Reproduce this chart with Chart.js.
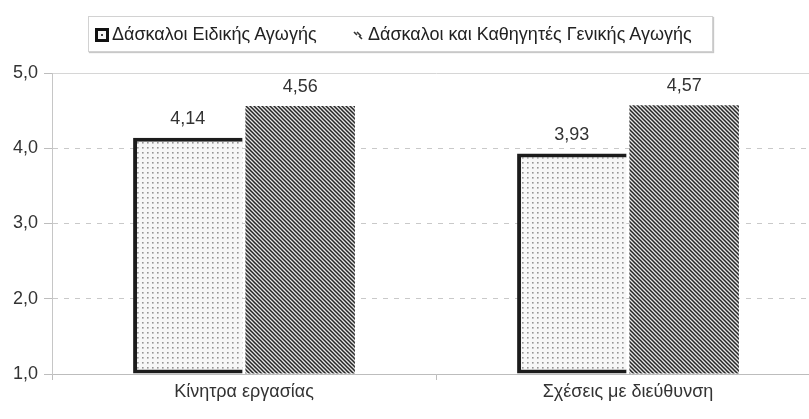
<!DOCTYPE html>
<html>
<head>
<meta charset="utf-8">
<script src="https://cdn.jsdelivr.net/npm/chart.js@4/dist/chart.umd.min.js"></script>
<style>
  html, body { margin: 0; padding: 0; background: #fff; overflow: hidden; }
  #wrap { position: relative; width: 809px; height: 419px; overflow: hidden; }
  #chart { position: absolute; left: 0; top: 0; }
  #legend {
    position: absolute; left: 88px; top: 16px; width: 625px; height: 36px;
    box-sizing: border-box; border: 1px solid #d2d2d2; box-shadow: 1px 1px 1px #c8c8c8;
    font: 18px "Liberation Sans", Arial, sans-serif; color: #222;
  }
  #legend .item { position: absolute; top: 7px; display: flex; align-items: center; white-space: nowrap; }
  #legend canvas { margin-right: 3px; }
</style>
</head>
<body>
<div id="wrap">
  <canvas id="chart" width="830" height="419"></canvas>
  <div id="legend"></div>
</div>
<script>
const categories = ['Κίνητρα εργασίας', 'Σχέσεις με διεύθυνση'];
const seriesNames = ['Δάσκαλοι Ειδικής Αγωγής', 'Δάσκαλοι και Καθηγητές Γενικής Αγωγής'];
const specialEd = [4.14, 3.93];
const generalEd = [4.56, 4.57];
const yMin = 1;
const yMax = 5;

const FONT = '"Liberation Sans", Arial, sans-serif';
const comma = (v, d) => v.toFixed(d).replace('.', ',');

// fill patterns: fine dots for the first series, diagonal hatching for the second
function dotPattern(ctx) {
  const c = document.createElement('canvas');
  c.width = 5; c.height = 5;
  const g = c.getContext('2d');
  g.fillStyle = '#f7f7f7';
  g.fillRect(0, 0, 5, 5);
  g.fillStyle = '#959595';
  g.fillRect(2, 2, 1.6, 1.6);
  return ctx.createPattern(c, 'repeat');
}

function hatchPattern(ctx) {
  const s = 4;
  const c = document.createElement('canvas');
  c.width = s; c.height = s;
  const g = c.getContext('2d');
  g.fillStyle = '#e4e4e4';
  g.fillRect(0, 0, s, s);
  g.strokeStyle = '#262626';
  g.lineWidth = 1.5;
  g.beginPath();
  g.moveTo(-1, -1); g.lineTo(s + 1, s + 1);
  g.moveTo(-1, s - 1); g.lineTo(1, s + 1);
  g.moveTo(s - 1, -1); g.lineTo(s + 1, 1);
  g.stroke();
  return ctx.createPattern(c, 'repeat');
}

const canvas = document.getElementById('chart');
const ctx2d = canvas.getContext('2d');

const valueLabels = {
  id: 'valueLabels',
  afterDatasetsDraw(chart) {
    const ctx = chart.ctx;
    ctx.save();
    ctx.font = '18px ' + FONT;
    ctx.fillStyle = '#333';
    ctx.textAlign = 'center';
    ctx.textBaseline = 'alphabetic';
    chart.data.datasets.forEach((ds, i) => {
      chart.getDatasetMeta(i).data.forEach((bar, j) => {
        ctx.fillText(comma(ds.data[j], 2), bar.x, bar.y - 14);
      });
    });
    ctx.restore();
  }
};

new Chart(canvas, {
  type: 'bar',
  data: {
    labels: categories,
    datasets: [{
      label: seriesNames[0],
      data: specialEd,
      base: yMin,
      backgroundColor: dotPattern(ctx2d),
      borderColor: '#1c1c1c',
      borderWidth: { top: 4, left: 4, bottom: 4, right: 0 },
      borderSkipped: false
    }, {
      label: seriesNames[1],
      data: generalEd,
      base: yMin,
      backgroundColor: hatchPattern(ctx2d),
      borderWidth: 0
    }]
  },
  options: {
    responsive: false,
    animation: false,
    categoryPercentage: 0.585,
    barPercentage: 0.975,
    layout: { padding: { left: 0, right: 10, top: 73, bottom: 0 } },
    plugins: {
      legend: { display: false },
      tooltip: { enabled: false }
    },
    scales: {
      x: {
        grid: {
          offset: true,
          drawOnChartArea: false,
          drawTicks: true,
          tickLength: 6,
          color: '#bdbdbd'
        },
        border: { color: '#bdbdbd' },
        ticks: {
          padding: 1,
          color: '#333',
          font: { family: FONT, size: 18 }
        },
        afterFit: s => { s.height = 45; }
      },
      y: {
        min: yMin,
        max: yMax,
        ticks: {
          stepSize: 1,
          padding: 6,
          color: '#333',
          font: { family: FONT, size: 18 },
          callback: v => comma(v, 1)
        },
        grid: {
          color: c => (c.tick && c.tick.value === yMax) ? '#d6d6d6' : '#c9c9c9',
          tickColor: '#bdbdbd',
          tickLength: 8
        },
        border: {
          color: '#c6c6c6',
          dash: c => (c.tick && c.tick.value > yMin && c.tick.value < yMax) ? [5, 6] : []
        },
        afterFit: s => { s.width = 52; }
      }
    }
  },
  plugins: [valueLabels]
});

// legend markers
function markerSpecial() {
  const c = document.createElement('canvas');
  c.width = 14; c.height = 14;
  const g = c.getContext('2d');
  g.fillStyle = '#111';
  g.fillRect(0, 0, 14, 14);
  g.fillStyle = '#f4f4f4';
  g.fillRect(3, 3, 8, 8);
  g.fillStyle = '#444';
  g.fillRect(6, 6, 2, 2);
  return c;
}
function markerGeneral() {
  const c = document.createElement('canvas');
  c.width = 14; c.height = 14;
  const g = c.getContext('2d');
  g.strokeStyle = '#333';
  g.lineWidth = 1.6;
  g.beginPath();
  g.moveTo(3, 4); g.lineTo(6, 7);
  g.moveTo(6, 4); g.lineTo(10, 8);
  g.moveTo(8, 8); g.lineTo(11, 11);
  g.stroke();
  return c;
}

const legend = document.getElementById('legend');
[[markerSpecial(), seriesNames[0], 6], [markerGeneral(), seriesNames[1], 262]].forEach(([mk, txt, left]) => {
  const it = document.createElement('div');
  it.className = 'item';
  it.style.left = left + 'px';
  it.appendChild(mk);
  const sp = document.createElement('span');
  sp.textContent = txt;
  it.appendChild(sp);
  legend.appendChild(it);
});
</script>
</body>
</html>
